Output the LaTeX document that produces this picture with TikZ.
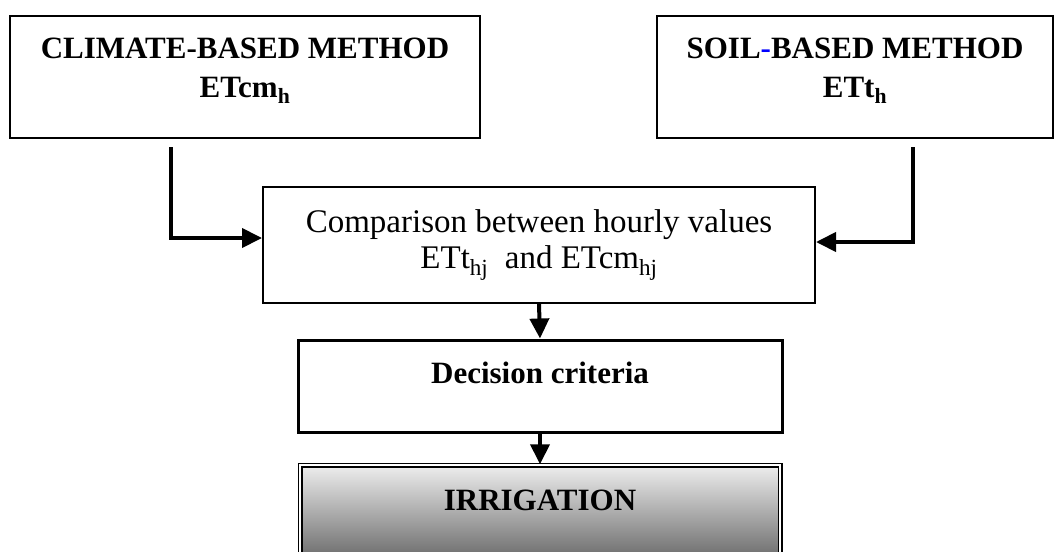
\documentclass[tikz,border=0pt]{standalone}
\usepackage{fontspec}
\setmainfont{Liberation Serif}
\usepackage{xcolor}
\usetikzlibrary{arrows.meta,positioning}

\definecolor{irrtop}{RGB}{238,238,238}
\definecolor{irrbot}{RGB}{85,85,85}

\begin{document}
\begin{tikzpicture}[x=1pt,y=-1pt,
    method node/.style={draw,line width=2pt,minimum height=122pt,align=center,
                        font=\fontsize{31}{39}\selectfont\bfseries,text depth=19.5pt},
    main node/.style={draw,line width=2pt,align=center,
                      font=\fontsize{33}{36}\selectfont},
    flow arrow/.style={line width=4pt,-{Triangle[length=20pt,width=19pt]}}]
\useasboundingbox (0,0) rectangle (1056,551);

%The two methods
 \node[method node,minimum width=470pt] (Climate) at (245,77)
      {CLIMATE-BASED METHOD\\ETcm\textsubscript{h}};
 \node[method node,minimum width=396pt] (Soil) at (855,77)
      {SOIL{\color{blue}-}BASED METHOD\\ETt\textsubscript{h}};

%Comparison and decision
 \node[main node,minimum width=552pt,minimum height=116pt,text depth=12.5pt] (Compare) at (539,245)
      {Comparison between hourly values\\ETt\textsubscript{hj}~ and ETcm\textsubscript{hj}};
 \node[main node,line width=3pt,minimum width=484pt,minimum height=92pt,text depth=27pt,
       font=\fontsize{31}{36}\selectfont\bfseries] (Decision) at (540,386) {Decision criteria};

%Irrigation box
 \node[main node,line width=1.5pt,double=white,double distance=2pt,
       top color=irrtop,bottom color=irrbot,minimum width=480pt,minimum height=110pt,
       text depth=40.5pt,font=\fontsize{31}{36}\selectfont\bfseries] (Irrigation) at (540,520) {IRRIGATION};

%Connectors
 \coordinate (ClimateOut) at (171,147);
 \coordinate (SoilOut) at (913,147);
 \draw[flow arrow] (ClimateOut) |- ([yshift=7pt]Compare.west);
 \draw[flow arrow] (SoilOut) |- ([yshift=3pt]Compare.east);
 \draw[flow arrow] (Compare.south) -- (Decision.north);
 \draw[flow arrow] (Decision.south) -- (Irrigation.north);

\end{tikzpicture}
\end{document}
